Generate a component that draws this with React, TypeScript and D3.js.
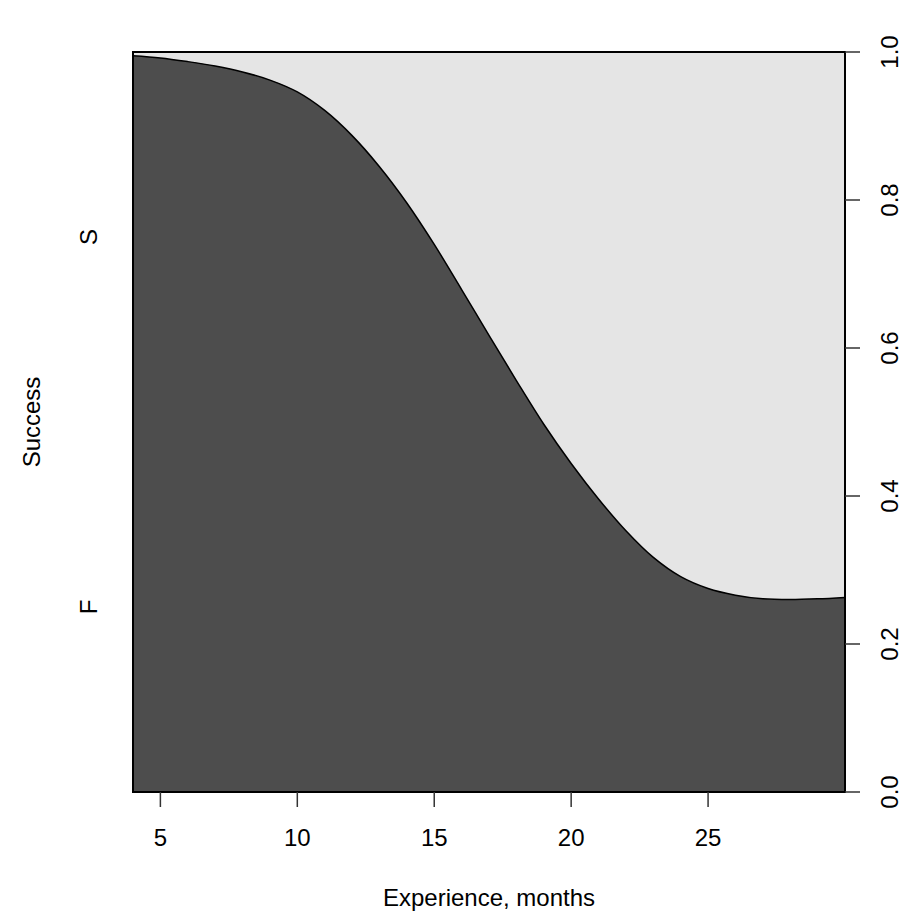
import React from "react";
import * as d3 from "d3";

const experience = [4, 5, 6, 7, 8, 9, 10, 11, 12, 13, 14, 15, 16, 17, 18, 19, 20, 21, 22, 23, 24, 25, 26, 27, 28, 29, 30];
const probFailure = [0.995, 0.992, 0.987, 0.981, 0.973, 0.962, 0.946, 0.921, 0.887, 0.845, 0.796, 0.740, 0.679, 0.617, 0.556, 0.497, 0.444, 0.396, 0.353, 0.317, 0.291, 0.275, 0.266, 0.261, 0.260, 0.261, 0.263];
const xTicks = [5, 10, 15, 20, 25];
const yTicks = [0, 0.2, 0.4, 0.6, 0.8, 1.0];
const levels = ["F", "S"];
const levelPositions = [0.25, 0.75];
const xTitle = "Experience, months";
const yTitle = "Success";

const W = 910;
const H = 920;
const left = 133;
const right = 845;
const top = 52;
const bottom = 792;
const FONT = "'Liberation Sans', Arial, Helvetica, sans-serif";
const FS = 24;

export default function App() {
  const x = d3.scaleLinear().domain([4, 30]).range([left, right]);
  const y = d3.scaleLinear().domain([0, 1]).range([bottom, top]);
  const pts = experience.map((e, i) => [e, probFailure[i]] as [number, number]);
  const curve = d3.curveCatmullRom.alpha(0.5);
  const area = d3
    .area<[number, number]>()
    .x((d) => x(d[0]))
    .y0(() => y(0))
    .y1((d) => y(d[1]))
    .curve(curve);
  const line = d3
    .line<[number, number]>()
    .x((d) => x(d[0]))
    .y((d) => y(d[1]))
    .curve(curve);

  return (
    <svg
      width={W}
      height={H}
      style={{ position: "absolute", left: 0, top: 0, background: "#fff" }}
      fontFamily={FONT}
    >
      <rect x={left} y={top} width={right - left} height={bottom - top} fill="#E5E5E5" />
      <path d={area(pts) || ""} fill="#4D4D4D" />
      <path d={line(pts) || ""} fill="none" stroke="#000" strokeWidth={1.5} />
      <rect
        x={left}
        y={top}
        width={right - left}
        height={bottom - top}
        fill="none"
        stroke="#000"
        strokeWidth={2}
      />
      {/* bottom axis */}
      {xTicks.map((t) => (
        <g key={t}>
          <line x1={x(t)} x2={x(t)} y1={bottom} y2={bottom + 15} stroke="#333" strokeWidth={1.5} />
          <text x={x(t)} y={bottom + 54} textAnchor="middle" fontSize={FS} fill="#000">
            {t}
          </text>
        </g>
      ))}
      <text x={(left + right) / 2} y={906} textAnchor="middle" fontSize={FS} fill="#000">
        {xTitle}
      </text>
      {/* right axis */}
      {yTicks.map((t) => (
        <g key={t}>
          <line x1={right} x2={right + 15} y1={y(t)} y2={y(t)} stroke="#333" strokeWidth={1.5} />
          <text
            transform={`translate(${890},${y(t)}) rotate(-90)`}
            dy="0.35em"
            textAnchor="middle"
            fontSize={FS}
            fill="#000"
          >
            {t.toFixed(1)}
          </text>
        </g>
      ))}
      {/* left level labels */}
      {levels.map((l, i) => (
        <text
          key={l}
          transform={`translate(${89},${y(levelPositions[i])}) rotate(-90)`}
          dy="0.35em"
          textAnchor="middle"
          fontSize={FS}
          fill="#000"
        >
          {l}
        </text>
      ))}
      <text
        transform={`translate(${32},${(top + bottom) / 2}) rotate(-90)`}
        dy="0.35em"
        textAnchor="middle"
        fontSize={FS}
        fill="#000"
      >
        {yTitle}
      </text>
    </svg>
  );
}
